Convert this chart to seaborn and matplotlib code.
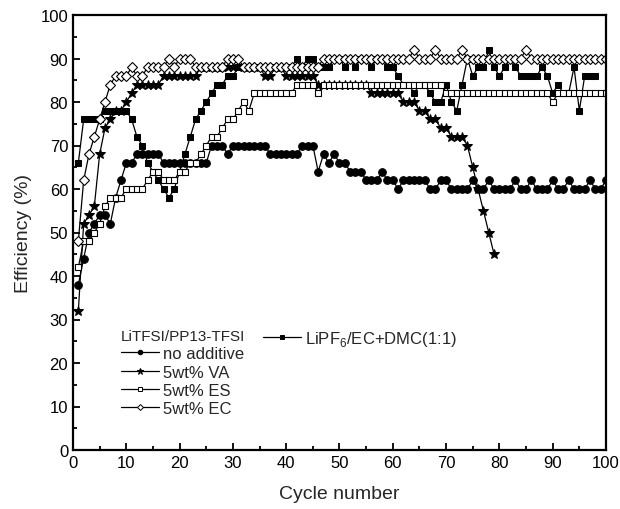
import numpy as np
import pandas as pd
import matplotlib
matplotlib.use("Agg")
import matplotlib.pyplot as plt
from matplotlib.ticker import MultipleLocator
from matplotlib.lines import Line2D
import seaborn as sns

sns.set_style("ticks")
plt.rcParams['font.family'] = ['Liberation Sans', 'DejaVu Sans']
plt.rcParams['mathtext.fontset'] = 'custom'
plt.rcParams['mathtext.rm'] = 'Liberation Sans'

# ---------------- data ----------------
no_additive = [38, 44, 50, 52, 54, 54, 52, 58, 62, 66,
               66, 68, 68, 68, 68, 68, 66, 66, 66, 66,
               66, 66, 66, 66, 66, 70, 70, 70, 68, 70,
               70, 70, 70, 70, 70, 70, 68, 68, 68, 68,
               68, 68, 70, 70, 70, 64, 68, 66, 68, 66,
               66, 64, 64, 64, 62, 62, 62, 64, 62, 62,
               60, 62, 62, 62, 62, 62, 60, 60, 62, 62,
               60, 60, 60, 60, 62, 60, 60, 62, 60, 60,
               60, 60, 62, 60, 60, 62, 60, 60, 60, 62,
               60, 60, 62, 60, 60, 60, 62, 60, 60, 62]

va_5wt = [32, 52, 54, 56, 68, 74, 76, 78, 78, 80,
          82, 84, 84, 84, 84, 84, 86, 86, 86, 86,
          86, 86, 86, 88, 88, 88, 88, 88, 88, 88,
          88, 88, 88, 88, 88, 86, 86, 88, 88, 86,
          86, 86, 86, 86, 86, 84, 84, 84, 84, 84,
          84, 84, 84, 84, 84, 82, 82, 82, 82, 82,
          82, 80, 80, 80, 78, 78, 76, 76, 74, 74,
          72, 72, 72, 70, 65, 60, 55, 50, 45]

es_5wt = [42, 48, 48, 50, 52, 56, 58, 58, 58, 60,
          60, 60, 60, 62, 64, 64, 62, 62, 62, 64,
          64, 66, 66, 68, 70, 72, 72, 74, 76, 76,
          78, 80, 78, 82, 82, 82, 82, 82, 82, 82,
          82, 84, 84, 84, 84, 82, 84, 84, 84, 84,
          84, 84, 84, 84, 84, 84, 84, 84, 84, 84,
          84, 84, 84, 84, 84, 84, 84, 84, 84, 82,
          82, 82, 82, 82, 82, 82, 82, 82, 82, 82,
          82, 82, 82, 82, 82, 82, 82, 82, 82, 80,
          82, 82, 82, 82, 82, 82, 82, 82, 82, 82]

ec_5wt = [48, 62, 68, 72, 76, 80, 84, 86, 86, 86,
          88, 86, 86, 88, 88, 88, 88, 90, 88, 90,
          90, 90, 88, 88, 88, 88, 88, 88, 90, 90,
          90, 88, 88, 88, 88, 88, 88, 88, 88, 88,
          88, 88, 88, 88, 88, 88, 90, 90, 90, 90,
          90, 90, 90, 90, 90, 90, 90, 90, 90, 90,
          90, 90, 90, 92, 90, 90, 90, 92, 90, 90,
          90, 90, 92, 90, 90, 90, 90, 90, 90, 90,
          90, 90, 90, 90, 92, 90, 90, 90, 90, 90,
          90, 90, 90, 90, 90, 90, 90, 90, 90, 90]

lipf6 = [66, 76, 76, 76, 76, 78, 78, 78, 78, 78,
         76, 72, 70, 66, 64, 62, 60, 58, 60, 64,
         68, 72, 76, 78, 80, 82, 84, 84, 86, 86,
         88, 88, 88, 88, 88, 88, 88, 88, 88, 88,
         88, 90, 88, 90, 90, 88, 88, 88, 90, 90,
         88, 90, 88, 90, 90, 88, 90, 90, 88, 88,
         86, 84, 84, 82, 84, 84, 82, 80, 80, 84,
         80, 78, 84, 90, 86, 88, 88, 92, 88, 86,
         88, 90, 88, 86, 86, 86, 86, 88, 86, 82,
         84, 82, 82, 88, 78, 86, 86, 86]

labels = ["no additive", "5wt% VA", "5wt% ES", "5wt% EC"]
label_lipf6 = r"LiPF$_\mathregular{6}$/EC+DMC(1:1)"
legend_title = "LiTFSI/PP13-TFSI"
x_ticks = list(range(0, 101, 10))
y_ticks = list(range(0, 101, 10))

# ---------------- figure ----------------
fig = plt.figure(figsize=(6.2, 5.1), dpi=100)
ax = fig.add_axes([73/620, 1-451/510, (606-73)/620, (451-16)/510])

def cyc(v):
    return np.arange(1, len(v) + 1)

lw = 0.9
sns.lineplot(x=cyc(lipf6), y=lipf6, ax=ax, color='black', lw=lw, marker='s',
             markersize=5, markerfacecolor='black', markeredgecolor='black', label=label_lipf6)
sns.lineplot(x=cyc(no_additive), y=no_additive, ax=ax, color='black', lw=lw, marker='o',
             markersize=5.5, markerfacecolor='black', markeredgecolor='black', label=labels[0])
sns.lineplot(x=cyc(va_5wt), y=va_5wt, ax=ax, color='black', lw=lw, marker='*',
             markersize=7.5, markerfacecolor='black', markeredgecolor='black', label=labels[1])
sns.lineplot(x=cyc(es_5wt), y=es_5wt, ax=ax, color='black', lw=lw, marker='s',
             markersize=5, markerfacecolor='white', markeredgecolor='black', markeredgewidth=0.8, label=labels[2])
sns.lineplot(x=cyc(ec_5wt), y=ec_5wt, ax=ax, color='black', lw=lw, marker='D',
             markersize=5, markerfacecolor='white', markeredgecolor='black', markeredgewidth=0.8, label=labels[3])

ax.set_xlim(0, 100)
ax.set_ylim(0, 100)
ax.set_xticks(x_ticks)
ax.set_yticks(y_ticks)
ax.xaxis.set_minor_locator(MultipleLocator(5))
ax.yaxis.set_minor_locator(MultipleLocator(5))
ax.tick_params(which='both', direction='in', top=False, right=False, labelsize=12, width=1.3, colors='black')
ax.tick_params(which='major', length=5)
ax.tick_params(which='minor', length=3)
for s in ax.spines.values():
    s.set_linewidth(1.6)
    s.set_visible(True)
    s.set_color('black')

ax.set_xlabel("Cycle number", fontsize=14, labelpad=11)
ax.set_ylabel("Efficiency (%)", fontsize=14, labelpad=6)

handles, lbls = ax.get_legend_handles_labels()
hmap = dict(zip(lbls, handles))
def legend_handle(lbl):
    h = hmap[lbl]
    return Line2D([], [], color='black', lw=lw, marker=h.get_marker(),
                  markersize=h.get_markersize() * 0.6,
                  markerfacecolor=h.get_markerfacecolor(), markeredgecolor='black',
                  markeredgewidth=0.7)

leg1 = ax.legend([legend_handle(l) for l in labels], labels, title=legend_title,
                 loc='upper left', bbox_to_anchor=(0.0675, 0.305), frameon=False,
                 fontsize=12, title_fontsize=11, alignment='left',
                 handlelength=2.3, handletextpad=0.22, labelspacing=0.2, borderpad=0.2)
ax.add_artist(leg1)
ax.legend([legend_handle(label_lipf6)], [label_lipf6], loc='upper left',
          bbox_to_anchor=(0.334, 0.305), frameon=False, fontsize=12,
          handlelength=2.3, handletextpad=0.22, borderpad=0.2)

fig.savefig("out.png", dpi=100)
